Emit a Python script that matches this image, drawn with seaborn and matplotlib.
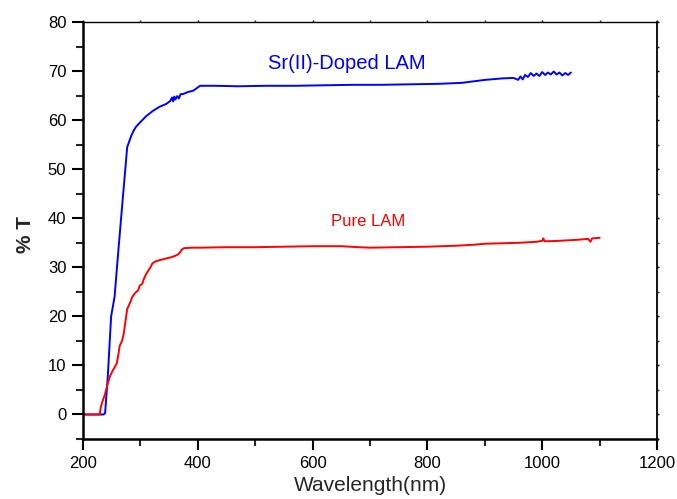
import matplotlib
matplotlib.use("Agg")
import matplotlib.pyplot as plt
import seaborn as sns
import pandas as pd
from matplotlib.ticker import MultipleLocator

# ---- data ----
doped_nm = [200, 236, 238.5, 243, 249, 255, 262, 270, 277, 281, 284, 286, 288.5, 292, 300, 310,
            322, 333, 345, 352, 355, 357, 359, 361, 364, 367, 370, 374, 382, 392, 404, 430,
            470, 520, 570, 620, 670, 720, 770, 820, 860, 880, 900, 930, 950, 958, 962, 966,
            970, 975, 980, 985, 990, 995, 1000, 1005, 1010, 1015, 1020, 1025, 1030, 1035,
            1040, 1045, 1050]
doped_T = [0, 0, 0.3, 7.4, 20, 24, 34, 45, 54.5, 55.8, 56.8, 57.3, 57.9, 58.6, 59.6, 60.8,
           61.9, 62.7, 63.3, 63.9, 64.6, 63.8, 64.8, 64.2, 64.9, 64.4, 65.3, 65.3, 65.7, 66.0,
           67.0, 67.0, 66.9, 67.0, 67.0, 67.1, 67.2, 67.2, 67.3, 67.4, 67.6, 67.9, 68.2,
           68.5, 68.6, 68.2, 68.9, 68.3, 69.2, 68.8, 69.6, 69.0, 69.5, 69.0, 69.8, 69.2,
           69.7, 69.3, 69.9, 69.3, 69.7, 69.1, 69.6, 69.2, 69.7]

pure_nm = [200, 229, 231, 234, 238, 243, 247, 252, 256, 259, 262, 264, 268, 271, 274, 277,
           281, 286, 291, 296, 299, 303, 306, 309, 313, 317, 321, 326, 335, 345, 355, 364,
           369, 372, 376, 390, 404, 450, 500, 550, 600, 650, 680, 700, 750, 800, 850, 880,
           900, 930, 960, 990, 1000, 1002, 1004, 1030, 1060, 1080, 1084, 1087, 1100]
pure_T = [0, 0, 1.5, 2.7, 4.0, 6.3, 7.8, 9.0, 9.8, 10.5, 12.5, 14.0, 15.0, 16.5, 19.0, 21.5,
          22.5, 24.0, 24.8, 25.3, 26.3, 26.6, 27.6, 28.4, 29.2, 29.9, 30.8, 31.2, 31.5, 31.8,
          32.1, 32.5, 33.0, 33.6, 33.9, 34.0, 34.0, 34.1, 34.1, 34.2, 34.3, 34.3, 34.1,
          34.0, 34.1, 34.2, 34.4, 34.6, 34.8, 34.9, 35.0, 35.2, 35.4, 35.9, 35.3, 35.4,
          35.6, 35.8, 35.2, 35.9, 36.0]

x_ticks = [200, 400, 600, 800, 1000, 1200]
y_ticks = [0, 10, 20, 30, 40, 50, 60, 70, 80]

df = pd.concat([
    pd.DataFrame({"nm": doped_nm, "T": doped_T, "sample": "Sr(II)-Doped LAM"}),
    pd.DataFrame({"nm": pure_nm, "T": pure_T, "sample": "Pure LAM"}),
])

sns.set_style("ticks")
plt.rcParams["font.family"] = ["Liberation Sans", "DejaVu Sans"]

fig = plt.figure(figsize=(6.77, 4.99), dpi=100)
ax = fig.add_axes([0.1226, 0.1202, 0.8479, 0.8357])

sns.lineplot(data=df, x="nm", y="T", hue="sample", sort=False, estimator=None,
             palette={"Sr(II)-Doped LAM": "#0000ff", "Pure LAM": "#ff0000"},
             linewidth=1.4, legend=False, ax=ax)

ax.set_xlim(200, 1200)
ax.set_ylim(-5, 80)
ax.set_xticks(x_ticks)
ax.set_yticks(y_ticks)
ax.xaxis.set_minor_locator(MultipleLocator(100))
ax.yaxis.set_minor_locator(MultipleLocator(5))

ax.spines["left"].set_linewidth(1.8)
ax.spines["bottom"].set_linewidth(1.8)
ax.spines["top"].set_linewidth(1.0)
ax.spines["right"].set_linewidth(1.3)
for s in ax.spines.values():
    s.set_color("black")
ax.tick_params(which="major", direction="out", length=8, width=1.5, labelsize=12,
               colors="black", pad=4)
ax.tick_params(which="minor", direction="out", length=5, width=1.5)
ax.tick_params(axis="x", which="both", top=True, labeltop=False)
ax.tick_params(axis="y", which="both", right=True, labelright=False)
for t in ax.xaxis.get_ticklines(minor=False)[1::2] + ax.xaxis.get_ticklines(minor=True)[1::2]:
    t.set_markersize(1.5)
    t.set_markeredgewidth(1.0)
for t in ax.yaxis.get_ticklines(minor=False)[1::2] + ax.yaxis.get_ticklines(minor=True)[1::2]:
    t.set_markersize(1.5)
    t.set_markeredgewidth(1.0)

ax.set_xlabel("Wavelength(nm)", fontsize=15, labelpad=4)
ax.set_ylabel("% T", fontsize=15, fontweight="bold")
ax.yaxis.set_label_coords(-0.084, 0.49)

ax.text(659, 71.6, "Sr(II)-Doped LAM", color="#0000ff", fontsize=14.5, ha="center", va="center")
ax.text(696, 39.3, "Pure LAM", color="#ff0000", fontsize=12, ha="center", va="center")

fig.savefig("out.png", dpi=100)
